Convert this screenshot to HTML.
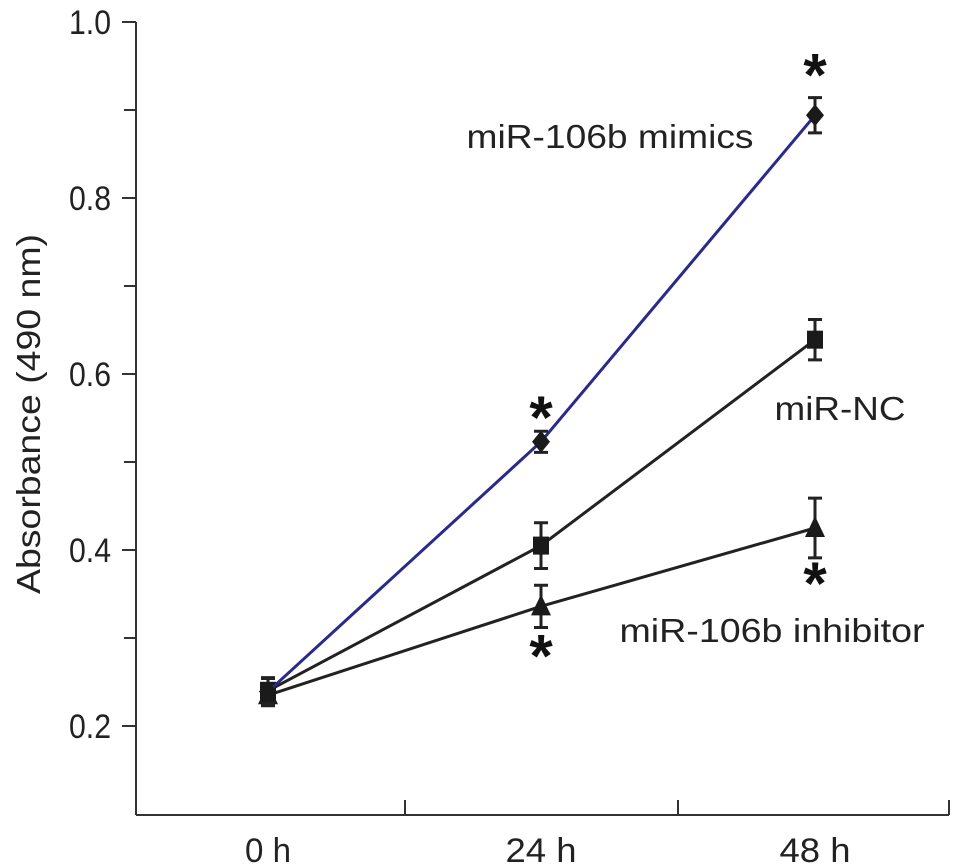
<!DOCTYPE html>
<html><head><meta charset="utf-8"><style>
html,body{margin:0;padding:0;background:#fff;}
svg{display:block;font-family:"Liberation Sans",Arial,sans-serif;}
</style></head><body>
<svg id="chart" width="969" height="868" viewBox="0 0 969 868">
<g id="axes"></g>
<g id="series"></g>
<g id="labels"></g>
</svg>
<script>
const categories = ["0 h", "24 h", "48 h"];
const yTicks = [0.2, 0.4, 0.6, 0.8, 1.0];
const yMinorTicks = [0.3, 0.5, 0.7, 0.9];
const mimicsValues = [0.239, 0.523, 0.894];
const mimicsErrors = [0.015, 0.012, 0.02];
const ncValues = [0.24, 0.405, 0.639];
const ncErrors = [0.015, 0.026, 0.023];
const inhibitorValues = [0.235, 0.336, 0.425];
const inhibitorErrors = [0.012, 0.024, 0.034];
const seriesNames = ["miR-106b mimics", "miR-NC", "miR-106b inhibitor"];

const NS = "http://www.w3.org/2000/svg";
const X0 = 136, X1 = 949, YB = 815;
function y(v){ return 726 - (v - 0.2) * 880; }
function x(i){ return [268, 541, 815][i]; }
function mk(parent, tag, attrs){ const e = document.createElementNS(NS, tag); for (const k in attrs) e.setAttribute(k, attrs[k]); parent.appendChild(e); return e; }

const axes = document.getElementById('axes');
let el = mk(axes, 'line', {x1:X0, y1:y(1.0), x2:X0, y2:YB, stroke:'#333', 'stroke-width':2});


el = mk(axes, 'line', {x1:X0, y1:YB, x2:X1, y2:YB, stroke:'#333', 'stroke-width':2});


yTicks.forEach(v => {
  const t = mk(axes, 'line', {x1:X0-14, y1:y(v), x2:X0, y2:y(v), stroke:'#333', 'stroke-width':2});
  
  
  const l = mk(axes, 'text', {x:X0-25, y:y(v)+12, 'text-anchor':'end', 'font-size':34, fill:'#222', textLength:42, lengthAdjust:'spacingAndGlyphs'});
  l.textContent = v.toFixed(1);
  
  
});
yMinorTicks.forEach(v => {
  const t = mk(axes, 'line', {x1:X0-12, y1:y(v), x2:X0, y2:y(v), stroke:'#333', 'stroke-width':2});
  
  
});
[405, 678, 949].forEach(px => {
  const t = mk(axes, 'line', {x1:px, y1:YB-15, x2:px, y2:YB, stroke:'#333', 'stroke-width':2});
  
  
});
const xLens = [46, 71, 71];
categories.forEach((c, i) => {
  const l = mk(axes, 'text', {x:x(i), y:862, 'text-anchor':'middle', 'font-size':34, fill:'#222', textLength:xLens[i], lengthAdjust:'spacingAndGlyphs'});
  l.textContent = c;
  
  
});
el = mk(axes, 'text', {x:0, y:0, 'text-anchor':'middle', 'font-size':33, fill:'#222', transform:'translate(40,414) rotate(-90)', textLength:360, lengthAdjust:'spacingAndGlyphs'});
el.textContent = 'Absorbance (490 nm)';



const ser = document.getElementById('series');
function drawSeries(vals, errs, color, shape, name){
  const g = mk(ser, 'g', {});
  
  
  const pts = vals.map((v, i) => x(i) + ',' + y(v)).join(' ');
  const pl = mk(g, 'polyline', {points:pts, fill:'none', stroke:color, 'stroke-width':3});
  
  
  vals.forEach((v, i) => {
    const cx = x(i), cy = y(v), hi = y(v + errs[i]), lo = y(v - errs[i]);
    const eb = mk(g, 'path', {d:`M${cx},${hi}V${lo}M${cx-7},${hi}H${cx+7}M${cx-7},${lo}H${cx+7}`, stroke:'#222', 'stroke-width':3, fill:'none'});
    
    
    let m;
    if (shape === 'diamond') m = mk(g, 'path', {d:`M${cx},${cy-11}L${cx+9},${cy}L${cx},${cy+11}L${cx-9},${cy}Z`, fill:'#1a1a1a'});
    else if (shape === 'square') m = mk(g, 'rect', {x:cx-8, y:cy-9, width:16, height:18, fill:'#1a1a1a'});
    else m = mk(g, 'path', {d:`M${cx},${cy-12}L${cx+10},${cy+9}L${cx-10},${cy+9}Z`, fill:'#1a1a1a'});
    
    
  });
}
drawSeries(inhibitorValues, inhibitorErrors, '#222', 'triangle', 'inhibitor-series');
drawSeries(ncValues, ncErrors, '#222', 'square', 'nc-series');
drawSeries(mimicsValues, mimicsErrors, '#2a2a8a', 'diamond', 'mimics-series');

const lab = document.getElementById('labels');
function txt(s, px, py, len, name){
  const t = mk(lab, 'text', {x:px, y:py, 'text-anchor':'middle', 'font-size':33, fill:'#222', textLength:len, lengthAdjust:'spacingAndGlyphs'});
  t.textContent = s;
  
  
}
txt(seriesNames[0], 610, 148, 287, 'mimics-label');
txt(seriesNames[1], 840, 420, 131, 'nc-label');
txt(seriesNames[2], 772, 642, 305, 'inhibitor-label');
function star(px, py){
  const t = mk(lab, 'text', {x:px, y:py, 'text-anchor':'middle', 'font-size':60, 'font-weight':'bold', fill:'#111'});
  t.textContent = '*';
  
  
}
star(x(1), y(mimicsValues[1]) - 4);
star(x(2), y(mimicsValues[2]) - 20);
star(x(1), y(inhibitorValues[1]) + 70);
star(x(2), y(inhibitorValues[2]) + 76);
</script>
</body></html>
